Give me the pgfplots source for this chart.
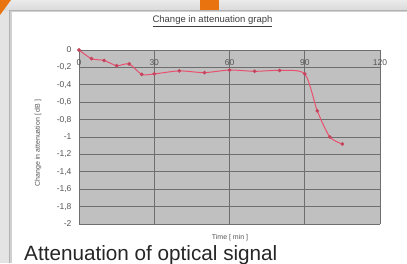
\documentclass[border=0pt]{standalone}
\usepackage{pgfplots}
\pgfplotsset{compat=1.18}
\usepackage{fontspec}
\setmainfont{Liberation Sans}
\definecolor{orangeA}{HTML}{E8730F}
\definecolor{plotgray}{HTML}{C0C0C0}
\definecolor{gridgray}{HTML}{6E6E6E}
\definecolor{linered}{HTML}{E8506E}
\definecolor{framegray}{HTML}{E4E4E4}
\definecolor{txtgray}{HTML}{555555}
\begin{document}
\begin{tikzpicture}[x=1pt,y=1pt]
\clip (0,0) rectangle (407,263);
\fill[framegray] (0,0) rectangle (407,263);
\shade[top color=white!92!black, bottom color=white!85!black] (0,252) rectangle (407,263);
\fill[white!70!black] (9,0) rectangle (407,253);
\fill[white!82!black] (10,0) rectangle (407,252);
\fill[white] (12,0) rectangle (407,251);
\fill[orangeA] (0,263) -- (11,263) -- (0,248) -- cycle;
\fill[orangeA] (200,253) rectangle (219,263);
\begin{axis}[
  at={(79pt,39pt)}, anchor=south west,
  width=301pt, height=174pt, scale only axis,
  xmin=0, xmax=120, ymin=-2, ymax=0,
  xtick={0,30,60,90,120},
  ytick={-2,-1.8,-1.6,-1.4,-1.2,-1,-0.8,-0.6,-0.4,-0.2,0},
  axis background/.style={fill=plotgray},
  axis line style={draw=none},
  major tick length=0pt,
  grid=major,
  major grid style={gridgray, line width=0.9pt},
  xticklabel pos=upper,
  xticklabel style={anchor=north, yshift=-6pt, font=\fontsize{8.5}{9}\selectfont, text=txtgray},
  yticklabel style={xshift=-4pt, font=\fontsize{8.5}{9}\selectfont, text=txtgray},
  /pgf/number format/assume math mode=true,
  /pgf/number format/use comma,
  clip=false,
]
\addplot[linered, line width=1pt, smooth, tension=0.45, mark=*, mark size=1.3pt,
  mark options={fill=linered!85!black, draw=linered!85!black}]
  coordinates {
  (0,0) (5,-0.10) (10,-0.12) (15,-0.18) (20,-0.16) (25,-0.28) (30,-0.275)
  (40,-0.24) (50,-0.26) (60,-0.23) (70,-0.245) (80,-0.235) (90,-0.275)
  (95,-0.70) (100,-1.00) (105,-1.08)
  };
\end{axis}
\node[text=black!75, font=\fontsize{9.5}{10}\selectfont] at (212.5,242) {\underline{Change in attenuation graph}};
\node[rotate=90, text=txtgray, font=\fontsize{7}{8}\selectfont] at (38,120) {Change in attenuation [ dB ]};
\node[text=txtgray, font=\fontsize{7}{8}\selectfont] at (230,25) {Time [ min ]};
\node[anchor=base west, inner sep=0pt, text=black!85, font=\fontsize{20.7}{24}\selectfont] at (24,3) {Attenuation of optical signal};
\end{tikzpicture}
\end{document}
